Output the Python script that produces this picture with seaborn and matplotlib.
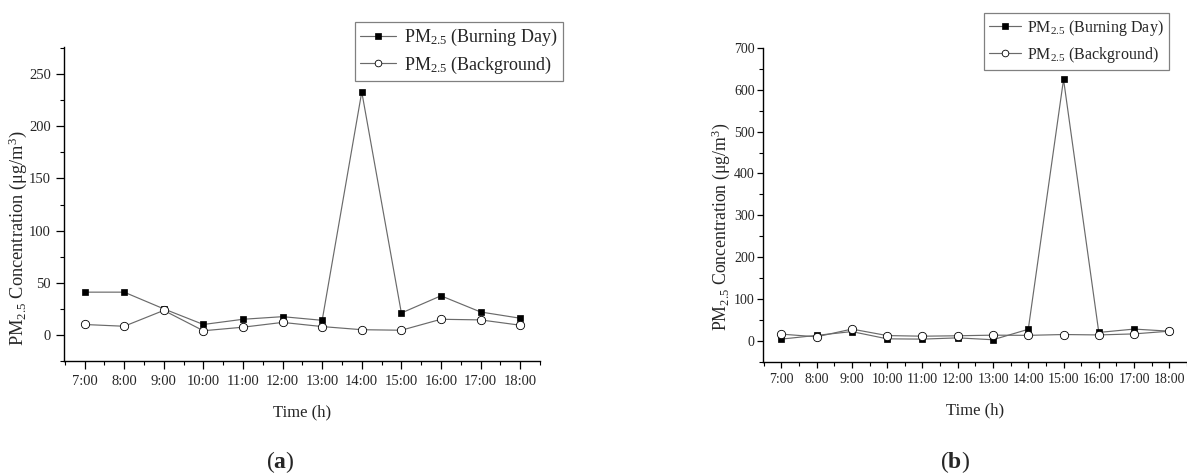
import matplotlib
matplotlib.use("Agg")
import matplotlib.pyplot as plt
from matplotlib.ticker import FixedLocator, MultipleLocator
import seaborn as sns
import pandas as pd

hours = ["7:00", "8:00", "9:00", "10:00", "11:00", "12:00",
         "13:00", "14:00", "15:00", "16:00", "17:00", "18:00"]

a_burning = [41, 41, 25, 10, 15, 17.5, 14, 233, 21, 37.5, 22, 16]
a_background = [10, 8.3, 23.5, 4, 7.4, 12, 8, 5, 4.5, 15, 14.4, 9.3]

b_burning = [4, 13, 22, 4.7, 4, 7, 2.5, 27.5, 625, 20, 28, 23]
b_background = [16, 9.5, 28, 12.5, 11, 12, 13.5, 13, 15, 14, 16.5, 23]

series_names = ["Burning Day", "Background"]

sns.set_theme(style="ticks")
plt.rcParams["font.family"] = ["Liberation Serif", "DejaVu Serif"]
plt.rcParams["mathtext.fontset"] = "custom"
plt.rcParams["mathtext.rm"] = "Liberation Serif"
plt.rcParams["mathtext.it"] = "Liberation Serif:italic"
plt.rcParams["mathtext.bf"] = "Liberation Serif:bold"

LINE = "#6a6a6a"

fig = plt.figure(figsize=(11.87, 4.74), dpi=100)
ax1 = fig.add_axes([0.0539, 0.2384, 0.4010, 0.6624])
ax2 = fig.add_axes([0.6428, 0.2369, 0.3572, 0.6618])


def draw(ax, burning, background, ylim, major, minor, leg_anchor, fs_tick, fs_lab,
         fs_ylab, ylab_xy, fs_leg, hlen, lspace, tlen, tpad):
    pos = list(range(len(hours)))
    df = pd.DataFrame({
        "pos": pos * 2,
        "val": list(burning) + list(background),
        "series": [series_names[0]] * len(pos) + [series_names[1]] * len(pos),
    })
    d1 = df[df.series == series_names[0]]
    d2 = df[df.series == series_names[1]]
    sns.lineplot(data=d1, x="pos", y="val", ax=ax, color=LINE, lw=0.85,
                 marker="s", markersize=5, markerfacecolor="black",
                 markeredgecolor="black", markeredgewidth=0.5,
                 label=r"PM$_{2.5}$ (Burning Day)", zorder=3)
    sns.lineplot(data=d2, x="pos", y="val", ax=ax, color=LINE, lw=0.85,
                 marker="o", markersize=6, markerfacecolor="white",
                 markeredgecolor="black", markeredgewidth=0.6,
                 label=r"PM$_{2.5}$ (Background)", zorder=3)
    ax.set_xlim(-0.52, 11.5)
    ax.set_ylim(*ylim)
    ax.set_xticks(pos)
    ax.set_xticklabels(hours, fontsize=fs_tick)
    ax.xaxis.set_minor_locator(FixedLocator([p + 0.5 for p in pos[:-1]] + [-0.5, 11.5]))
    ax.yaxis.set_major_locator(MultipleLocator(major))
    ax.yaxis.set_minor_locator(MultipleLocator(minor))
    yt = [t for t in ax.get_yticks() if ylim[0] < t <= ylim[1] + 0.5]
    ax.set_yticks(yt)
    ax.set_yticklabels([str(int(t)) for t in yt], fontsize=fs_tick)
    ax.set_ylim(*ylim)
    ax.tick_params(which="major", direction="out", length=tlen, width=0.9, color="black", pad=tpad)
    ax.tick_params(which="minor", direction="out", length=3, width=0.8, color="black")
    ax.tick_params(axis="x", which="major", pad=4)
    for s in ["top", "right"]:
        ax.spines[s].set_visible(False)
    for s in ["left", "bottom"]:
        ax.spines[s].set_color("black")
        ax.spines[s].set_linewidth(1.0)
    ax.set_xlabel("Time (h)", fontsize=fs_lab, labelpad=12)
    ax.set_ylabel(r"PM$_{2.5}$ Concentration (μg/m$^3$)", fontsize=fs_ylab)
    ax.yaxis.set_label_coords(*ylab_xy)
    ax.yaxis.label.set_verticalalignment("center")
    ax.grid(False)
    leg = ax.legend(loc="upper left", bbox_to_anchor=leg_anchor, bbox_transform=fig.transFigure,
                    borderaxespad=0, frameon=True, fancybox=False, fontsize=fs_leg,
                    handlelength=hlen, handletextpad=0.4, borderpad=0.3, labelspacing=lspace,
                    markerscale=0.8)
    leg.get_frame().set_edgecolor("#808080")
    leg.get_frame().set_linewidth(0.9)
    leg.get_frame().set_facecolor("white")
    leg.get_frame().set_alpha(1)


draw(ax1, a_burning, a_background, (-25, 276), 50, 25, (0.299, 0.954), 10.5, 12,
     13.2, (-0.097, 0.39), 13, 2.0, 0.35, 6, 3.5)
draw(ax2, b_burning, b_background, (-50, 700), 100, 50, (0.829, 0.9726), 10, 12,
     12.8, (-0.1, 0.43), 11.5, 2.0, 0.45, 4, 2)

fig.text(0.236, 0.025, r"($\mathbf{a}$)", ha="center", va="center", fontsize=17)
fig.text(0.8045, 0.025, r"($\mathbf{b}$)", ha="center", va="center", fontsize=17)

fig.savefig("out.png", dpi=100, facecolor="white")
